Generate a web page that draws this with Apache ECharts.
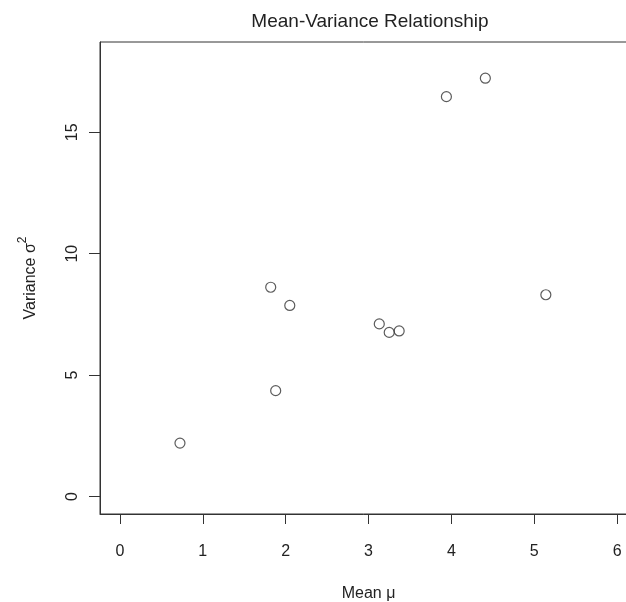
<!DOCTYPE html>
<html>
<head>
<meta charset="utf-8">
<script src="https://cdn.jsdelivr.net/npm/echarts@6/dist/echarts.min.js"></script>
<style>
html,body{margin:0;padding:0;background:#fff;overflow:hidden;}
#chart{width:626px;height:602px;}
</style>
</head>
<body>
<div id="chart"></div>
<script>
// Data
const meanValues = [0.725, 1.82, 1.88, 2.05, 3.13, 3.25, 3.37, 3.94, 4.41, 5.14];
const varianceValues = [2.20, 8.62, 4.36, 7.87, 7.11, 6.76, 6.82, 16.47, 17.23, 8.31];
const xTickValues = [0, 1, 2, 3, 4, 5, 6];
const yTickValues = [0, 5, 10, 15];
const titleText = 'Mean-Variance Relationship';
const xAxisTitle = 'Mean \u03bc';

const points = meanValues.map((m, i) => [m, varianceValues[i]]);
const FONT = '"Liberation Sans", Arial, sans-serif';
const INK = '#222';

const chart = echarts.init(document.getElementById('chart'), null, {renderer: 'canvas'});
chart.setOption({
  backgroundColor: '#ffffff',
  animation: false,
  title: {
    text: titleText,
    left: 365,
    top: 7,
    textAlign: 'center',
    textStyle: {fontFamily: FONT, fontSize: 19, fontWeight: 'normal', color: INK}
  },
  grid: {
    left: 100, top: 42, width: 537, height: 472,
    outerBoundsMode: 'none',
    show: true, borderColor: '#333', borderWidth: 1, backgroundColor: 'transparent',
    containLabel: false
  },
  xAxis: {
    type: 'value',
    min: -0.24, max: 6.24,
    name: xAxisTitle,
    nameLocation: 'middle',
    nameGap: 72,
    nameTextStyle: {fontFamily: FONT, fontSize: 16, color: INK},
    axisLine: {show: true, onZero: false, lineStyle: {color: '#333', width: 1}},
    axisTick: {show: true, inside: false, length: 10, customValues: xTickValues, lineStyle: {color: '#333', width: 1}},
    axisLabel: {show: true, margin: 30, customValues: xTickValues, fontFamily: FONT, fontSize: 16, color: INK,
      formatter: v => String(v)},
    splitLine: {show: false}
  },
  yAxis: {
    type: 'value',
    min: -0.72, max: 18.72,
    name: '{m|Variance \u03c3}{s|2}',
    nameLocation: 'middle',
    nameGap: 61,
    nameRotate: 90,
    nameTextStyle: {
      fontFamily: FONT, fontSize: 16, color: INK,
      rich: {
        m: {fontFamily: FONT, fontSize: 16, color: INK, lineHeight: 22, verticalAlign: 'bottom'},
        s: {fontFamily: FONT, fontSize: 12, color: INK, lineHeight: 22, verticalAlign: 'top'}
      }
    },
    axisLine: {show: true, onZero: false, lineStyle: {color: '#333', width: 1}},
    axisTick: {show: true, inside: false, length: 11, customValues: yTickValues, lineStyle: {color: '#333', width: 1}},
    axisLabel: {show: true, rotate: 90, margin: 19, customValues: yTickValues, fontFamily: FONT, fontSize: 16, color: INK,
      formatter: v => String(v)},
    splitLine: {show: false}
  },
  series: [{
    type: 'scatter',
    data: points,
    symbol: 'circle',
    symbolSize: 10,
    itemStyle: {color: 'rgba(255,255,255,0)', borderColor: '#333', borderWidth: 1.2},
    emphasis: {disabled: true}
  }]
});
</script>
</body>
</html>
